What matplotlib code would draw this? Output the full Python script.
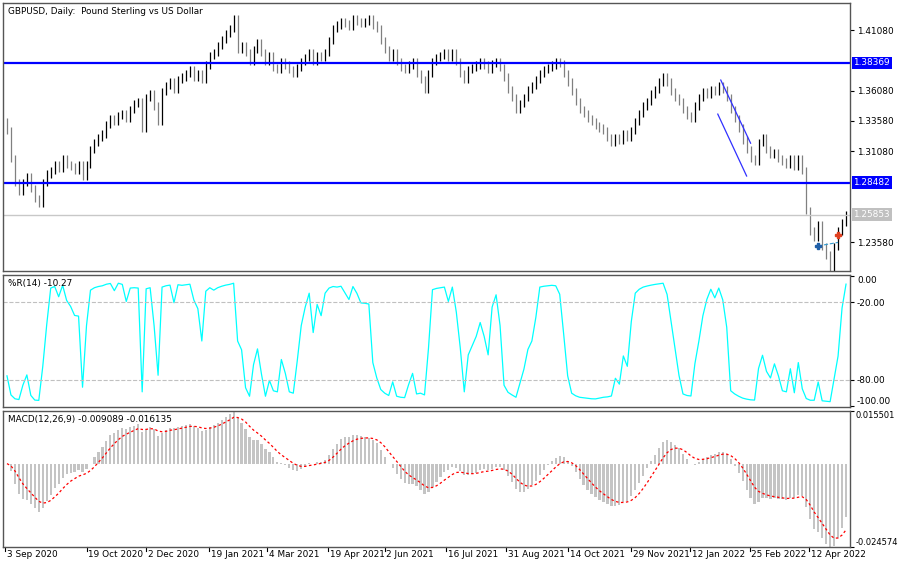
import matplotlib
matplotlib.use("Agg")
import matplotlib.pyplot as plt
import numpy as np

closes = [
1.328,1.305,1.285,1.278,1.285,1.290,1.280,1.272,1.268,1.285,
1.292,1.295,1.300,1.297,1.305,1.300,1.298,1.295,1.300,1.290,
1.300,1.312,1.318,1.322,1.325,1.333,1.338,1.335,1.340,1.342,
1.338,1.345,1.350,1.352,1.330,1.355,1.358,1.348,1.335,1.360,
1.365,1.368,1.362,1.370,1.372,1.375,1.378,1.372,1.375,1.370,
1.382,1.390,1.392,1.398,1.403,1.408,1.412,1.420,1.395,1.398,
1.392,1.385,1.395,1.400,1.392,1.385,1.390,1.380,1.378,1.385,
1.382,1.378,1.375,1.380,1.385,1.388,1.392,1.385,1.390,1.388,
1.392,1.402,1.412,1.415,1.418,1.416,1.414,1.420,1.418,1.416,
1.418,1.420,1.415,1.412,1.402,1.395,1.388,1.392,1.385,1.380,
1.378,1.382,1.385,1.375,1.370,1.362,1.375,1.385,1.388,1.390,
1.392,1.388,1.392,1.385,1.375,1.370,1.378,1.380,1.382,1.385,
1.382,1.378,1.383,1.385,1.380,1.372,1.362,1.355,1.345,1.350,
1.355,1.362,1.365,1.370,1.375,1.378,1.380,1.382,1.385,1.383,
1.375,1.368,1.360,1.352,1.345,1.342,1.338,1.335,1.332,1.330,
1.328,1.322,1.318,1.322,1.320,1.325,1.322,1.328,1.335,1.342,
1.348,1.352,1.358,1.362,1.368,1.372,1.368,1.360,1.355,1.352,
1.345,1.340,1.338,1.348,1.355,1.360,1.358,1.362,1.360,1.365,
1.362,1.355,1.345,1.338,1.330,1.320,1.312,1.305,1.302,1.318,
1.322,1.312,1.308,1.310,1.305,1.302,1.300,1.305,1.298,1.305,
1.295,1.262,1.245,1.240,1.250,1.232,1.225,1.215,1.232,1.245,
1.252,1.25853]
opens = [1.335] + closes[:-1]

date_labels = ["3 Sep 2020","19 Oct 2020","2 Dec 2020","19 Jan 2021","4 Mar 2021",
               "19 Apr 2021","2 Jun 2021","16 Jul 2021","31 Aug 2021","14 Oct 2021",
               "29 Nov 2021","12 Jan 2022","25 Feb 2022","12 Apr 2022"]
date_pos = [-0.5,20,35,50.8,65.5,80.8,95,110.5,125.5,141.2,157,171.8,186.8,201.8]

levels = [1.38369, 1.28482]
last_price = 1.25853
price_ticks = [1.41080, 1.36080, 1.33580, 1.31080, 1.23580]
chan1_x = [179.5, 187.0]; chan1_y = [1.3695, 1.3174]
chan2_x = [178.75, 186.0]; chan2_y = [1.3414, 1.2903]
wick = 0.003
wr_label = "%R(14) -10.27"
macd_label = "MACD(12,26,9) -0.009089 -0.016135"

c = np.array(closes); o = np.array(opens)
n = len(c)
hi = np.maximum(c, o) + wick; lo = np.minimum(c, o) - wick
x = np.arange(n)

per = 9
wr = np.full(n, np.nan)
for i in range(n):
    s = max(0, i - per + 1)
    h = hi[s:i+1].max(); l = lo[s:i+1].min()
    wr[i] = -100 * (h - c[i]) / (h - l)

def ema(a, p):
    out = np.zeros_like(a); k = 2 / (p + 1); out[0] = a[0]
    for i in range(1, len(a)):
        out[i] = a[i] * k + out[i-1] * (1 - k)
    return out
macd = ema(c, 9) - ema(c, 19)
sig = ema(macd, 6)

W, H = 900, 568
fig = plt.figure(figsize=(9, 5.68), dpi=100)
def ax_at(top, bot):
    return fig.add_axes([3/W, 1-bot/H, 847/W, (bot-top)/H])
ax1 = ax_at(3, 271); ax2 = ax_at(275, 407); ax3 = ax_at(411, 547)
fs = 6.4
for a in (ax1, ax2, ax3):
    a.set_xlim(-1, n)
    a.yaxis.tick_right()
    a.tick_params(axis='y', labelsize=fs, length=3, pad=2, colors='black')
    a.tick_params(axis='x', length=0, labelbottom=False)
    for s in a.spines.values():
        s.set_color('#555555'); s.set_linewidth(1)
ax3.tick_params(axis='y', labelsize=6.0, pad=1)

cols = ['black' if c[i] >= o[i] else '#808080' for i in range(n)]
ax1.vlines(x, lo, hi, colors=cols, lw=0.9)
ax1.set_ylim(1.2119, 1.4331)
ax1.set_yticks(price_ticks)
ax1.set_yticklabels([f"{t:.5f}" for t in price_ticks])
for lv in levels:
    ax1.axhline(lv, color='#0000ff', lw=1.6)
    ax1.text(1.004, lv, f"{lv:.5f}", transform=ax1.get_yaxis_transform(), va='center', ha='left',
             fontsize=fs, color='white', bbox=dict(boxstyle='square,pad=0.2', fc='#0000ff', ec='none'))
ax1.axhline(last_price, color='#c8c8c8', lw=1)
ax1.text(1.004, last_price, f"{last_price:.5f}", transform=ax1.get_yaxis_transform(), va='center', ha='left',
         fontsize=fs, color='white', bbox=dict(boxstyle='square,pad=0.2', fc='#c0c0c0', ec='none'))
ax1.plot(chan1_x, chan1_y, color='#3030ff', lw=0.9)
ax1.plot(chan2_x, chan2_y, color='#3030ff', lw=0.9)
ax1.plot([204, 209], [1.2326, 1.2355], color='#3399cc', lw=0.8, ls='--')
ax1.plot(204, 1.2326, marker='P', color='#1f5fa8', ms=4)
ax1.plot(209, 1.2417, marker='P', color='#e04020', ms=4)
ax1.text(0.006, 0.985, "GBPUSD, Daily:  Pound Sterling vs US Dollar", transform=ax1.transAxes,
         fontsize=fs, va='top', ha='left')

ax2.plot(x, wr, color='#00ffff', lw=0.9)
ax2.set_ylim(-101, 1)
ax2.set_yticks([0, -20, -80, -100])
ax2.set_yticklabels(["0.00", "-20.00", "-80.00", "-100.00"])
tl = ax2.get_yticklabels(); tl[0].set_va('top'); tl[-1].set_va('bottom')
for lv in (-20, -80):
    ax2.axhline(lv, color='#c0c0c0', lw=0.8, ls='--')
ax2.text(0.006, 0.97, wr_label, transform=ax2.transAxes, fontsize=fs, va='top')

ax3.bar(x, macd, width=0.55, color='#c4c4c4')
ax3.plot(x, sig, color='red', lw=0.9, ls=(0, (2, 2)))
ax3.set_ylim(-0.024574, 0.015501)
ax3.set_yticks([0.015501, -0.024574])
ax3.set_yticklabels(["0.015501", "-0.024574"])
tl = ax3.get_yticklabels(); tl[0].set_va('top'); tl[-1].set_va('bottom')
ax3.text(0.006, 0.97, macd_label, transform=ax3.transAxes, fontsize=fs, va='top')
for p, lab in zip(date_pos, date_labels):
    ax3.plot([p, p], [0, -0.03], transform=ax3.get_xaxis_transform(), color='black', lw=0.8, clip_on=False)
    ax3.text(p + 0.4, -0.025, lab, transform=ax3.get_xaxis_transform(), fontsize=fs, ha='left', va='top')

fig.savefig("out.png", dpi=100, facecolor='white')
